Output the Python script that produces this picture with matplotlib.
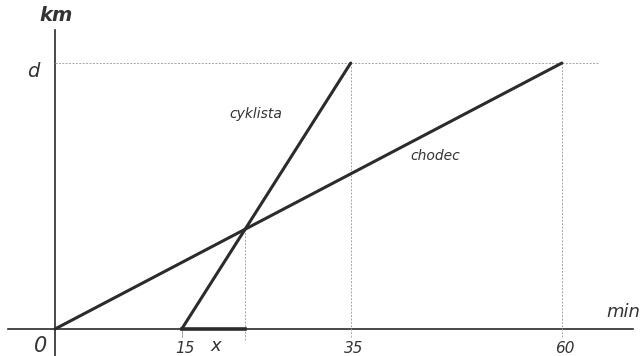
import numpy as np
import matplotlib.pyplot as plt

# chodec (walker) and cyklista (cyclist): time in min, distance as fraction of d
walker_t = [0, 60]
walker_d = [0, 1]
cyclist_t = [15, 35]
cyclist_d = [0, 1]
tick_values = [15, 35, 60]
tick_labels = ["15", "35", "60"]

# meeting point of the two lines
t_meet = (cyclist_t[0] * 60) / (60 - (cyclist_t[1] - cyclist_t[0]))
d_meet = t_meet / walker_t[1]

ink = "#2b2b2b"
grid = "#a5a5a5"

fig = plt.figure(figsize=(6.43, 3.56), dpi=100)
ax = fig.add_axes([0, 0, 1, 1])
ax.set_xlim(-6.51, 69.6)
ax.set_ylim(-0.1015, 1.237)
ax.axis("off")

# axes
ax.plot([-5.6, 68.4], [0, 0], color=ink, lw=1.2)
ax.plot([0, 0], [-0.11, 1.125], color=ink, lw=1.2)

# thin guide lines
ax.plot([0, 64.3], [1, 1], color=grid, lw=0.7, ls=(0, (2, 1.5)))
for t in [35, 60]:
    ax.plot([t, t], [-0.03, 1], color=grid, lw=0.7, ls=(0, (2, 1.5)))
ax.plot([t_meet, t_meet], [-0.04, d_meet], color=grid, lw=0.7, ls=(0, (2, 1.5)))
ax.plot([15, 15], [-0.03, 0], color=grid, lw=0.7)

# lines of travel
ax.plot(walker_t, walker_d, color=ink, lw=2.2, solid_capstyle="round")
ax.plot(cyclist_t, cyclist_d, color=ink, lw=2.2, solid_capstyle="round")

# segment x on the time axis
ax.plot([15, t_meet], [0, 0], color=ink, lw=2.6)

txt = dict(color="#333333", style="italic", family="DejaVu Sans")
for v, s in zip(tick_values, tick_labels):
    ax.text(v + 0.4, -0.045, s, ha="center", va="top", fontsize=11, **txt)
ax.text(-0.9, -0.025, "0", ha="right", va="top", fontsize=15, **txt)
ax.text((15 + t_meet) / 2 + 0.3, -0.03, "x", ha="center", va="top", fontsize=13, **txt)
ax.text(-1.8, 0.97, "d", ha="right", va="center", fontsize=14, **txt)
ax.text(0.1, 1.18, "km", ha="center", va="center", fontsize=14, weight="bold", **txt)
ax.text(67.3, 0.03, "min", ha="center", va="bottom", fontsize=13, **txt)
ax.text(23.8, 0.81, "cyklista", ha="center", va="center", fontsize=10, **txt)
ax.text(45.0, 0.65, "chodec", ha="center", va="center", fontsize=10, **txt)

fig.savefig("out.png", dpi=100, facecolor="white")
